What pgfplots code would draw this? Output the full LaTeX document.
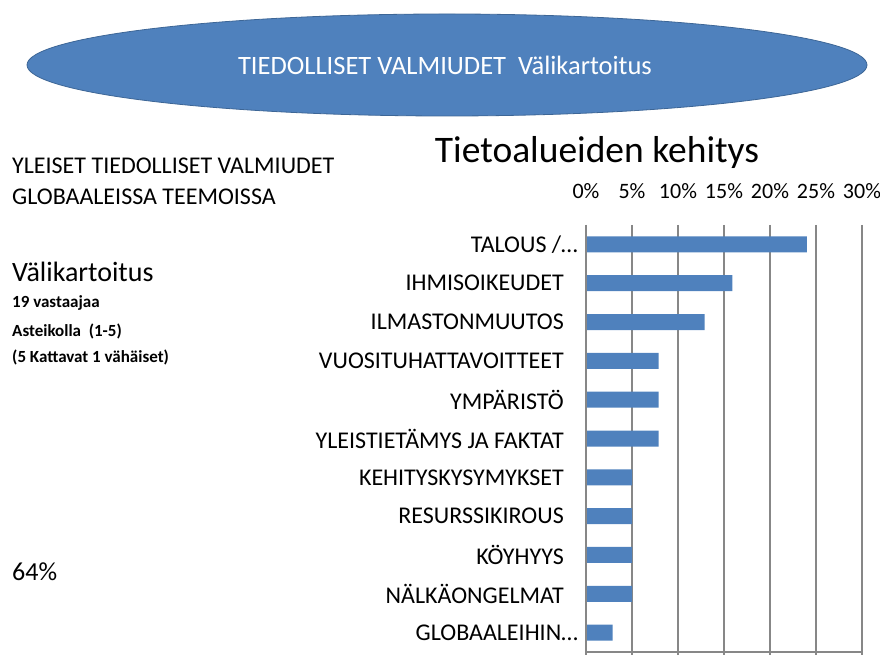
\documentclass[border=0pt]{standalone}
\usepackage{fontspec}
\setmainfont{Carlito}
\usepackage{pgfplots}
\pgfplotsset{compat=1.18}
\definecolor{barblue}{HTML}{4F81BD}
\definecolor{edgeblue}{HTML}{3D6696}
\definecolor{gridgray}{HTML}{878787}

\begin{document}
\begin{tikzpicture}[x=1pt,y=1pt]
\path[use as bounding box] (0,0) rectangle (880,655);

% banner
\fill[barblue, draw=edgeblue, line width=0.8pt] (447,590) ellipse [x radius=420, y radius=51];
\node[text=white, font=\fontsize{26.5}{30}\selectfont] at (445,590) {TIEDOLLISET\ VALMIUDET\ \ Välikartoitus};

% side notes
\node[anchor=base west, inner sep=0pt, font=\fontsize{24}{28}\selectfont] at (12,481) {YLEISET TIEDOLLISET VALMIUDET};
\node[anchor=base west, inner sep=0pt, font=\fontsize{24}{28}\selectfont] at (12,450) {GLOBAALEISSA TEEMOISSA};
\node[anchor=base west, inner sep=0pt, font=\fontsize{28}{32}\selectfont] at (12,373) {Välikartoitus};
\node[anchor=base west, inner sep=0pt, font=\bfseries\fontsize{17}{20}\selectfont] at (12,347) {19 vastaajaa};
\node[anchor=base west, inner sep=0pt, font=\bfseries\fontsize{17}{20}\selectfont] at (12,318) {Asteikolla\ \ (1-5)};
\node[anchor=base west, inner sep=0pt, font=\bfseries\fontsize{17}{20}\selectfont] at (12,292) {(5 Kattavat 1 vähäiset)};
\node[anchor=base west, inner sep=0pt, font=\fontsize{26}{30}\selectfont] at (12,74) {64\%};

% chart title
\node[font=\fontsize{37.5}{44}\selectfont] at (597,502) {Tietoalueiden kehitys};

\begin{axis}[
  at={(586pt,3pt)}, anchor=south west,
  scale only axis, width=276pt, height=427pt,
  xbar, bar width=16pt,
  xmin=0, xmax=30, ymin=-0.5, ymax=10.5, y dir=reverse,
  axis line style={draw=none},
  xtick={0,5,...,30},
  xticklabel={\pgfmathprintnumber{\tick}\%},
  xtick pos=bottom, xticklabel pos=top,
  xtick style={gridgray, line width=1.8pt},
  major tick length=4pt,
  tick align=outside,
  xmajorgrids, grid style={gridgray, line width=1.8pt},
  xticklabel style={font=\fontsize{22}{26}\selectfont, anchor=south, inner sep=0pt, yshift=22pt},
  /pgf/number format/assume math mode=true,
  ytick={0,...,10},
  ytick pos=left,
  ytick style={draw=none},
  minor ytick={-0.5,0.5,...,10.5},
  minor tick length=9pt,
  minor y tick style={gridgray, line width=1.5pt},
  yticklabels={
    {TALOUS /\ldots},
    {IHMISOIKEUDET\kern14pt},
    {ILMASTONMUUTOS\kern14pt},
    {VUOSITUHATTAVOITTEET\kern14pt},
    {YMPÄRISTÖ\kern14pt},
    {YLEISTIETÄMYS JA FAKTAT\kern14pt},
    {KEHITYSKYSYMYKSET\kern14pt},
    {RESURSSIKIROUS\kern14pt},
    {KÖYHYYS\kern14pt},
    {NÄLKÄONGELMAT\kern14pt},
    {GLOBAALEIHIN\ldots}},
  yticklabel style={font=\fontsize{24}{28}\selectfont, anchor=east, inner sep=0pt, xshift=-4pt},
]
\addplot[fill=barblue, draw=none] coordinates {
  (24,0) (15.9,1) (12.9,2) (7.9,3) (7.9,4) (7.9,5)
  (5,6) (5,7) (5,8) (5,9) (2.9,10)
};
\draw[gridgray, line width=1.8pt] (axis cs:0,-0.5) -- (axis cs:0,10.5);
\draw[gridgray, line width=1.8pt] (axis cs:0,10.5) -- (axis cs:30,10.5);
\end{axis}
\end{tikzpicture}
\end{document}
